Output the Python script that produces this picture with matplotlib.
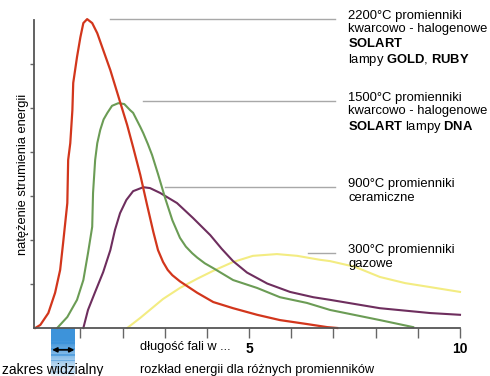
import matplotlib
matplotlib.use("Agg")
import matplotlib.pyplot as plt
from matplotlib.patches import Rectangle

plt.rcParams['font.family'] = ['Liberation Sans', 'DejaVu Sans']
plt.rcParams['mathtext.fontset'] = 'custom'
plt.rcParams['mathtext.rm'] = 'Liberation Sans'
plt.rcParams['mathtext.bf'] = 'Liberation Sans:bold'

# curves (x: wavelength, y: intensity)
red_x = [-0.07, 0.05, 0.24, 0.40, 0.52, 0.59, 0.69, 0.71, 0.76, 0.81, 0.83, 0.92, 1.00,
         1.07, 1.16, 1.28, 1.40, 1.54, 1.71, 1.87, 1.94, 2.11, 2.25, 2.42, 2.58, 2.73,
         2.84, 2.96, 3.07, 3.18, 3.36, 3.77, 4.15, 4.62, 5.19, 5.73, 6.37, 6.85, 7.09]
red_y = [0, 0.07, 0.34, 0.80, 1.32, 1.93, 2.84, 3.82, 4.20, 4.95, 5.57, 6.16, 6.61,
         6.93, 7.02, 6.93, 6.70, 6.32, 5.86, 5.36, 5.14, 4.61, 4.11, 3.48, 2.80, 2.18,
         1.77, 1.50, 1.32, 1.20, 1.06, 0.80, 0.59, 0.45, 0.30, 0.18, 0.09, 0.02, 0]

green_x = [0.45, 0.69, 0.92, 1.07, 1.18, 1.28, 1.30, 1.35, 1.40, 1.47, 1.55, 1.64, 1.75,
           1.90, 2.04, 2.18, 2.25, 2.42, 2.49, 2.60, 2.70, 2.84, 3.01, 3.18, 3.36, 3.50,
           3.65, 3.77, 3.95, 4.15, 4.62, 5.19, 5.73, 6.37, 6.92, 8.10, 8.89]
green_y = [0, 0.25, 0.64, 1.09, 1.70, 2.30, 3.07, 3.82, 4.20, 4.50, 4.74, 4.89, 5.05,
           5.11, 5.09, 4.95, 4.89, 4.57, 4.43, 4.18, 3.93, 3.50, 2.95, 2.45, 2.05, 1.85,
           1.70, 1.60, 1.47, 1.36, 1.09, 0.91, 0.70, 0.57, 0.41, 0.18, 0.02]

purple_x = [1.07, 1.18, 1.35, 1.54, 1.71, 1.82, 1.94, 2.09, 2.25, 2.49, 2.65, 2.89, 3.29,
            3.67, 4.08, 4.35, 4.62, 4.95, 5.43, 5.97, 6.52, 6.92, 8.10, 9.29, 10.0]
purple_y = [0, 0.41, 0.82, 1.27, 1.77, 2.23, 2.61, 2.91, 3.11, 3.20, 3.18, 3.07, 2.84,
            2.50, 2.11, 1.80, 1.52, 1.26, 1.01, 0.82, 0.70, 0.64, 0.45, 0.34, 0.30]

yellow_x = [2.11, 2.42, 2.96, 3.36, 3.77, 4.15, 4.62, 5.09, 5.66, 6.14, 6.68, 6.92, 7.51,
            8.10, 8.70, 9.29, 10.0]
yellow_y = [0, 0.23, 0.66, 0.91, 1.12, 1.30, 1.50, 1.64, 1.68, 1.64, 1.55, 1.52, 1.39,
            1.16, 1.02, 0.93, 0.82]

labels = [
    "2200°C promienniki\nkwarcowo - halogenowe\n$\\mathbf{SOLART}$\nlampy $\\mathbf{GOLD}$, $\\mathbf{RUBY}$",
    "1500°C promienniki\nkwarcowo - halogenowe\n$\\mathbf{SOLART}$ lampy $\\mathbf{DNA}$",
    "900°C promienniki\nceramiczne",
    "300°C promienniki\ngazowe",
]
label_y = [7.02, 5.16, 3.20, 1.70]
line_start = [1.71, 2.49, 3.01, 6.40]
line_end = 7.04
text_x = 7.35

visible_range = (0.31, 0.88)
xticks = list(range(1, 11))
xticklabels = ['', '', '', '', '5', '', '', '', '', '10']

fig = plt.figure(figsize=(4.9, 3.76), dpi=100)
ax = fig.add_axes([34 / 490, 48 / 376, 426 / 490, 308 / 376])

ax.plot(yellow_x, yellow_y, color='#f3ec82', lw=1.5, clip_on=False)
ax.plot(purple_x, purple_y, color='#6e2e5e', lw=1.5, clip_on=False)
ax.plot(green_x, green_y, color='#6b9c55', lw=1.5, clip_on=False)
ax.plot(red_x, red_y, color='#d2361c', lw=1.6, clip_on=False)

for txt, y, xs in zip(labels, label_y, line_start):
    ax.plot([xs, line_end], [y, y], color='#a8a8a8', lw=1, clip_on=False)
    ax.annotate(txt, (text_x, y), xytext=(0, 9), textcoords='offset pixels',
                ha='left', va='top', fontsize=9.4, linespacing=1.15,
                annotation_clip=False)

ax.set_xlim(-0.1, 10)
ax.set_ylim(0, 7)
for s in ['top', 'right']:
    ax.spines[s].set_visible(False)
for s in ['left', 'bottom']:
    ax.spines[s].set_color('#555555')
    ax.spines[s].set_linewidth(1.3)

ax.set_xticks(xticks)
ax.set_xticklabels(xticklabels, fontsize=10, fontweight='bold')
ax.tick_params(axis='x', length=7, width=1, color='#666666', pad=3)
ax.set_yticks(range(1, 7))
ax.set_yticklabels([])
ax.tick_params(axis='y', length=3, width=1, color='#666666')
ax.set_ylabel('natężenie strumienia energii', fontsize=9.3)
ax.yaxis.set_label_coords(-0.012, 0.5)

# visible range band below the axis
trans = ax.get_xaxis_transform()
n = 40
band_h = 0.157
for i in range(n):
    t = i / n
    a = 1.0 if t < 0.25 else 1.0 - 0.92 * (t - 0.25) / 0.75
    ax.add_patch(Rectangle((visible_range[0], -band_h * (i + 1) / n),
                           visible_range[1] - visible_range[0], band_h / n + 0.001,
                           transform=trans, facecolor='#3d93da', alpha=a,
                           edgecolor='none', clip_on=False))
ax.annotate('', xy=(visible_range[0] + 0.02, -0.071), xytext=(visible_range[1] - 0.02, -0.071),
            xycoords=trans, textcoords=trans,
            arrowprops=dict(arrowstyle='<|-|>', color='black', lw=1.2, mutation_scale=7,
                            shrinkA=0, shrinkB=0))

ax.text(2.42, -0.062, 'długość fali w ...', transform=trans, ha='left', va='center', fontsize=9.2)
ax.text(2.42, -0.136, 'rozkład energii dla różnych promienników', transform=trans,
        ha='left', va='center', fontsize=9.2)
ax.text(-0.85, -0.136, 'zakres widzialny', transform=trans, ha='left', va='center', fontsize=10)

fig.savefig('out.png', dpi=100)
